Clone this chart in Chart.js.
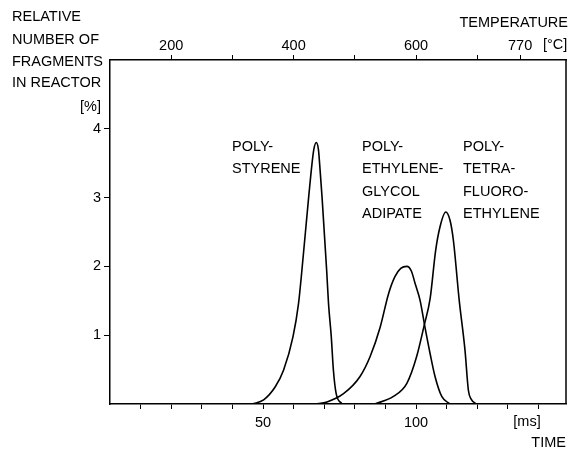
<!DOCTYPE html>
<html>
<head>
<meta charset="utf-8">
<script src="https://cdn.jsdelivr.net/npm/chart.js@4/dist/chart.umd.min.js"></script>
<style>
  html, body { margin: 0; padding: 0; background: #fff; }
  #wrap { width: 572px; height: 450px; position: relative; }
</style>
</head>
<body>
<div id="wrap"><canvas id="graph-main"></canvas></div>
<script>
// time axis [ms] -> relative number of fragments [%]
const psTime  = [46.5, 50.2, 54.0, 56.7, 59.8, 61.6, 62.7, 64.9, 66.0, 66.6, 67.4, 68.1, 68.5, 69.3, 70.8, 71.4, 72.3, 73.0, 73.9, 75.8];
const psValue = [0, 0.06, 0.25, 0.49, 0.98, 1.46, 1.94, 3.0, 3.49, 3.70, 3.80, 3.70, 3.49, 3.0, 1.94, 1.46, 0.98, 0.49, 0.15, 0];

const pegTime  = [67.0, 70.9, 76.3, 81.7, 85.0, 88.3, 91.0, 93.1, 95.0, 97.0, 98.5, 99.7, 101.3, 102.9, 104.6, 106.2, 108.4, 111.1];
const pegValue = [0, 0.03, 0.15, 0.40, 0.69, 1.12, 1.60, 1.85, 1.97, 2.0, 1.93, 1.75, 1.51, 1.12, 0.73, 0.40, 0.11, 0];

const ptfeTime  = [86.5, 92.6, 97.0, 100.2, 102.7, 104.6, 106.4, 107.8, 109.7, 111.1, 112.2, 114.1, 116.0, 117.1, 118.0, 119.8];
const ptfeValue = [0, 0.11, 0.30, 0.69, 1.15, 1.53, 2.23, 2.57, 2.79, 2.67, 2.38, 1.51, 0.78, 0.20, 0.07, 0];

const timeTicks = [10, 20, 30, 40, 50, 60, 70, 80, 90, 100, 110, 120, 130, 140];
const timeLabels = [50, 100];
const tempTicks = [200, 300, 400, 500, 600, 700, 770];
const tempLabels = [200, 400, 600, 770];
const valueTicks = [1, 2, 3, 4];

const FAMILY = '"Liberation Sans", Arial, sans-serif';
const FONT = '14.5px ' + FAMILY;

function toPoints(xs, ys) {
    return xs.map((x, i) => ({x: x, y: ys[i]}));
}

function curve(label, xs, ys) {
    return {
        label: label,
        data: toPoints(xs, ys),
        borderColor: '#000',
        backgroundColor: 'rgba(0,0,0,0)',
        borderWidth: 1.6,
        pointRadius: 0,
        cubicInterpolationMode: 'monotone',
        fill: false
    };
}

const texts = [
    // [text, x, y, align]
    ['RELATIVE', 12, 17, 'left'],
    ['NUMBER OF', 12, 40, 'left'],
    ['FRAGMENTS', 12, 62, 'left'],
    ['IN REACTOR', 12, 83, 'left'],
    ['[%]', 101, 107, 'right'],
    ['TEMPERATURE', 568, 23, 'right'],
    ['[°C]', 543, 45, 'left'],
    ['[ms]', 527, 422, 'center'],
    ['TIME', 566, 443, 'right'],
    ['POLY-', 232, 147, 'left'],
    ['STYRENE', 232, 169, 'left'],
    ['POLY-', 362, 147, 'left'],
    ['ETHYLENE-', 362, 169, 'left'],
    ['GLYCOL', 362, 191.5, 'left'],
    ['ADIPATE', 362, 213.5, 'left'],
    ['POLY-', 463, 147, 'left'],
    ['TETRA-', 463, 169, 'left'],
    ['FLUORO-', 463, 191.5, 'left'],
    ['ETHYLENE', 463, 213.5, 'left']
];

const annotate = {
    id: 'annotate',
    afterDraw(chart) {
        const ctx = chart.ctx;
        const a = chart.chartArea;
        ctx.save();
        ctx.strokeStyle = '#000';
        ctx.lineWidth = 1.5;
        ctx.beginPath();
        ctx.moveTo(a.right, a.top);
        ctx.lineTo(a.right, a.bottom);
        ctx.stroke();
        ctx.fillStyle = '#000';
        ctx.font = FONT;
        ctx.textBaseline = 'middle';
        for (let t of texts) {
            ctx.textAlign = t[3];
            ctx.fillText(t[0], t[1], t[2]);
        }
        ctx.restore();
    }
};

const axisCommon = {
    grid: {display: true, drawOnChartArea: false, drawTicks: true, tickLength: 5, tickColor: '#000', tickWidth: 1},
    border: {display: true, color: '#000', width: 1.5}
};

new Chart(document.getElementById('graph-main').getContext('2d'), {
    type: 'line',
    data: {
        datasets: [
            curve('POLYSTYRENE', psTime, psValue),
            curve('POLYETHYLENEGLYCOL ADIPATE', pegTime, pegValue),
            curve('POLYTETRAFLUOROETHYLENE', ptfeTime, ptfeValue)
        ]
    },
    options: {
        responsive: true,
        maintainAspectRatio: false,
        animation: false,
        layout: {padding: {left: 0, right: 6, top: 0, bottom: 0}},
        plugins: {legend: {display: false}, tooltip: {enabled: false}},
        scales: {
            x: {
                type: 'linear', position: 'bottom', min: 0, max: 149,
                afterBuildTicks: (s) => { s.ticks = timeTicks.map(v => ({value: v})); },
                afterFit: (s) => { s.height = 46; },
                ticks: {
                    autoSkip: false, maxRotation: 0, color: '#000', padding: 5,
                    font: {family: FAMILY, size: 14.5},
                    callback: (v) => timeLabels.includes(v) ? String(v) : ''
                },
                ...axisCommon
            },
            x2: {
                type: 'linear', position: 'top', min: 100, max: 100 + 5 * 149,
                afterBuildTicks: (s) => { s.ticks = tempTicks.map(v => ({value: v})); },
                afterFit: (s) => { s.height = 60; },
                ticks: {
                    autoSkip: false, maxRotation: 0, color: '#000', padding: 0,
                    font: {family: FAMILY, size: 14.5},
                    callback: (v) => tempLabels.includes(v) ? String(v) : ''
                },
                ...axisCommon
            },
            y: {
                type: 'linear', position: 'left', min: 0, max: 5,
                afterBuildTicks: (s) => { s.ticks = valueTicks.map(v => ({value: v})); },
                afterFit: (s) => { s.width = 110; },
                ticks: {
                    color: '#000', padding: 3,
                    font: {family: FAMILY, size: 14.5}
                },
                grid: {display: true, drawOnChartArea: false, drawTicks: true, tickLength: 6, tickColor: '#000', tickWidth: 1},
                border: {display: true, color: '#000', width: 1.5}
            }
        }
    },
    plugins: [annotate]
});
</script>
</body>
</html>
